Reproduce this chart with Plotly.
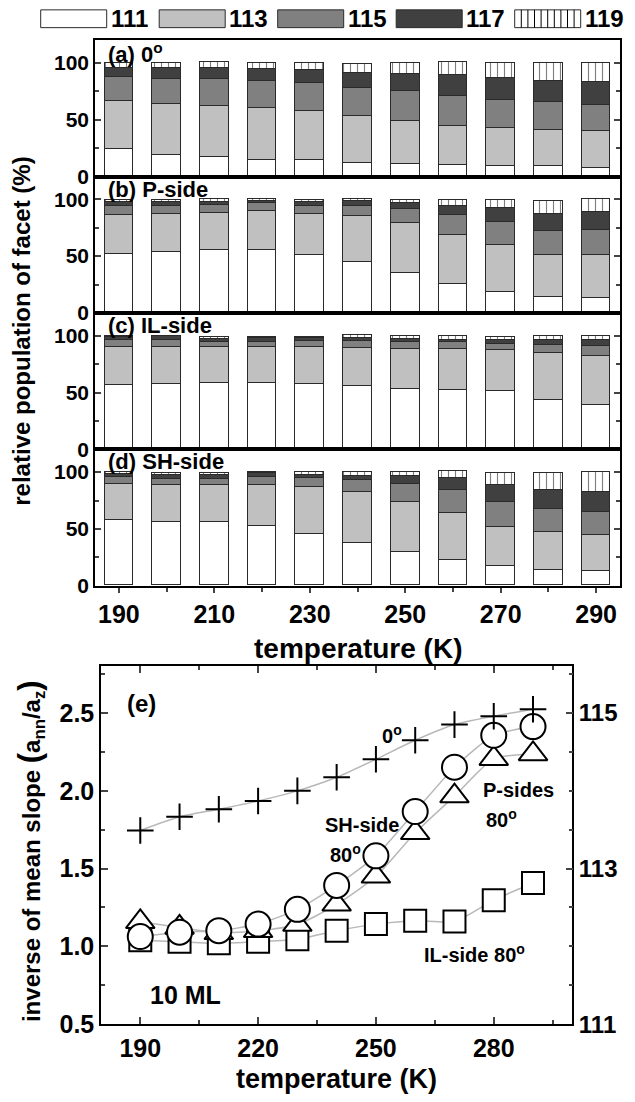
import plotly.graph_objects as go

W, H = 635, 1102

# ---------------- data ----------------
temps = [190, 200, 210, 220, 230, 240, 250, 260, 270, 280, 290]
facets = ["111", "113", "115", "117", "119"]

# (a) 0 deg
a_111 = [24, 19, 17, 14.6, 14, 11.7, 10.8, 9.6, 9, 9, 7.6]
a_113 = [42.5, 44.3, 45.2, 45.2, 43.7, 41.1, 38.2, 35, 33.3, 32.1, 32.1]
a_115 = [20.7, 22.1, 23.3, 24.2, 24.8, 25.3, 26.2, 26.2, 24.7, 24.5, 23.3]
a_117 = [8.4, 9.9, 9.9, 10.2, 10.8, 13.2, 15.2, 18.4, 19.3, 18.4, 20.4]
a_119 = [4.4, 4.7, 5.2, 5.8, 6.7, 7.7, 9.6, 11.7, 13.7, 16, 16.6]
# (b) P-side
b_111 = [52.5, 54.2, 55.4, 55.4, 51.6, 45.2, 35.3, 25.7, 18.4, 14.3, 13.4]
b_113 = [34.1, 33.3, 33.2, 34.4, 35.9, 40.5, 44, 43.7, 41.4, 36.7, 37.6]
b_115 = [8.2, 6.7, 6.7, 7, 7.3, 9.1, 12.2, 17.5, 21, 21.3, 22.8]
b_117 = [2.9, 3.8, 3, 2.3, 3.2, 3.7, 5.9, 7.9, 12.2, 15.2, 15.1]
b_119 = [2.3, 2, 2.3, 1.5, 2, 2.1, 2.6, 5.2, 7, 11.6, 11.7]
# (c) IL-side
c_111 = [56.3, 57.1, 58, 58, 57.4, 55.4, 53.1, 52.2, 51, 43.7, 39.4]
c_113 = [34.1, 33.3, 32.4, 32.4, 33, 33.8, 35.2, 36.1, 36.5, 40.8, 42.8]
c_115 = [5.5, 5.5, 4.4, 4.4, 4.6, 6.1, 5.9, 5.9, 4.9, 7.6, 9.1]
c_117 = [3.2, 3.5, 2.6, 2.9, 2.7, 2.4, 2.7, 2.1, 3.8, 4.1, 4.9]
c_119 = [0.9, 0.6, 1.4, 1.1, 1.1, 2.9, 2.8, 3.4, 2.3, 3.8, 3.8]
# (d) SH-side
d_111 = [57.4, 56.2, 55.4, 52.5, 45.5, 37.7, 29.3, 22.6, 16.8, 13.6, 12.8]
d_113 = [31.9, 32.2, 33, 35.9, 40.9, 44.6, 44.3, 40.9, 34.8, 33.1, 31.5]
d_115 = [6.4, 5.2, 5.2, 7.3, 7.8, 10.5, 15.7, 20, 21.4, 20.3, 20.6]
d_117 = [2.3, 3.5, 3.5, 2.9, 2.9, 3.7, 7.2, 11.3, 15.4, 17.3, 17.1]
d_119 = [1.4, 2, 2, 1.4, 2.9, 3.2, 3.5, 6.1, 10.7, 14.8, 18]

panel_labels = ["(a) 0<sup>o</sup>", "(b) P-side", "(c) IL-side", "(d) SH-side"]

# (e) inverse of mean slope
zero_deg = [1.745, 1.833, 1.882, 1.935, 2.0, 2.087, 2.203, 2.325, 2.426, 2.48, 2.525]
sh_side = [1.063, 1.091, 1.101, 1.143, 1.238, 1.392, 1.582, 1.867, 2.152, 2.357, 2.413]
p_side = [1.158, 1.122, 1.087, 1.10, 1.14, 1.27, 1.45, 1.73, 1.966, 2.207, 2.237]
il_side = [1.04, 1.03, 1.02, 1.03, 1.045, 1.101, 1.143, 1.165, 1.16, 1.297, 1.407]

bar_xticks = [190, 210, 230, 250, 270, 290]
e_xticks = [190, 220, 250, 280]
e_yticks = [0.5, 1.0, 1.5, 2.0, 2.5]
right_ticks = [111, 113, 115]

# ---------------- styles ----------------
FONT = "Liberation Sans, Arial, Helvetica, sans-serif"
fill_colors = ["#ffffff", "#c0c0c0", "#808080", "#404040", "#ffffff"]
panels = [
    [a_111, a_113, a_115, a_117, a_119],
    [b_111, b_113, b_115, b_117, b_119],
    [c_111, c_113, c_115, c_117, c_119],
    [d_111, d_113, d_115, d_117, d_119],
]

fig = go.Figure()

for p, series in enumerate(panels):
    xa = "x" if p == 0 else f"x{p+1}"
    ya = "y" if p == 0 else f"y{p+1}"
    for f, vals in enumerate(series):
        marker = dict(color=fill_colors[f], line=dict(color="#2a2a2a", width=1))
        if f == 4:
            marker["pattern"] = dict(shape="|", fgcolor="#000000", bgcolor="#ffffff",
                                     size=7, solidity=0.16)
        fig.add_trace(go.Bar(x=temps, y=vals, width=6, marker=marker, name=facets[f],
                             xaxis=xa, yaxis=ya, showlegend=False))

# panel (e) lines underneath
line_style = dict(color="#b8b8b8", width=1.5, shape="spline", smoothing=0.6)
for ser in [il_side, p_side, sh_side, zero_deg]:
    fig.add_trace(go.Scatter(x=temps, y=ser, mode="lines", line=line_style,
                             xaxis="x5", yaxis="y5", showlegend=False, hoverinfo="skip"))

mk_line = dict(color="black", width=2)
fig.add_trace(go.Scatter(x=temps, y=il_side, mode="markers", xaxis="x5", yaxis="y5",
                         marker=dict(symbol="square", size=22, color="white", line=mk_line),
                         showlegend=False))
fig.add_trace(go.Scatter(x=temps, y=p_side, mode="markers", xaxis="x5", yaxis="y5",
                         marker=dict(symbol="triangle-up", size=25, color="white", line=mk_line),
                         showlegend=False))
fig.add_trace(go.Scatter(x=temps, y=sh_side, mode="markers", xaxis="x5", yaxis="y5",
                         marker=dict(symbol="circle", size=25, color="white", line=mk_line),
                         showlegend=False))
fig.add_trace(go.Scatter(x=temps, y=zero_deg, mode="markers", xaxis="x5", yaxis="y5",
                         marker=dict(symbol="cross-thin", size=19, color="black", line=mk_line),
                         showlegend=False))
# right axis carrier
fig.add_trace(go.Scatter(x=[None], y=[None], xaxis="x5", yaxis="y6", showlegend=False,
                         hoverinfo="skip"))

# ---------------- layout ----------------
bar_left, bar_right = 95, 620
top0, ph = 40.7, 138.15
layout = dict(width=W, height=H, autosize=False, margin=dict(l=0, r=0, t=0, b=0),
              paper_bgcolor="white", plot_bgcolor="white", barmode="stack", bargap=0,
              font=dict(family=FONT, color="black"))

for p in range(4):
    top = top0 + p * ph
    bot = top + ph
    xk = "xaxis" if p == 0 else f"xaxis{p+1}"
    yk = "yaxis" if p == 0 else f"yaxis{p+1}"
    yname = "y" if p == 0 else f"y{p+1}"
    xname = "x" if p == 0 else f"x{p+1}"
    last = p == 3
    layout[xk] = dict(domain=[bar_left / W, bar_right / W], anchor=yname, range=[185, 295],
                      tickvals=bar_xticks, showticklabels=last,
                      ticks="outside" if last else "", ticklen=5, tickwidth=1.5,
                      minor=dict(tickvals=[200, 220, 240, 260, 280],
                                 ticks="outside" if last else "", ticklen=4, tickwidth=1.5),
                      showline=True, linecolor="black", linewidth=1.5, mirror=True,
                      showgrid=False, zeroline=False,
                      tickfont=dict(size=25, family=FONT, weight="bold"))
    layout[yk] = dict(domain=[1 - bot / H, 1 - top / H], anchor=xname, range=[0, 120],
                      tickvals=[0, 50, 100], ticks="inside", ticklen=6, tickwidth=1.5,
                      minor=dict(tickvals=[25, 75], ticks="inside", ticklen=4, tickwidth=1.5),
                      showline=True, linecolor="black", linewidth=1.5, mirror="ticks",
                      showgrid=False, zeroline=False,
                      tickfont=dict(size=21, family=FONT, weight="bold"))

e_left, e_right, e_top, e_bot = 101, 572.3, 675, 1037.3
layout["xaxis5"] = dict(domain=[e_left / W, e_right / W], anchor="y5", range=[180, 300],
                        tickvals=e_xticks, ticks="inside", ticklen=7, tickwidth=1.5,
                        minor=dict(tickvals=[205, 235, 265, 295], ticks="inside",
                                   ticklen=4, tickwidth=1.5),
                        showline=True, linecolor="black", linewidth=1.5, mirror="ticks",
                        showgrid=False, zeroline=False, ticklabelstandoff=1,
                        tickfont=dict(size=25, family=FONT, weight="bold"))
layout["yaxis5"] = dict(domain=[1 - e_bot / H, 1 - e_top / H], anchor="x5", range=[0.5, 2.8],
                        tickvals=e_yticks, ticktext=["0.5", "1.0", "1.5", "2.0", "2.5"],
                        ticks="inside", ticklen=7, tickwidth=1.5,
                        minor=dict(tickvals=[0.75, 1.25, 1.75, 2.25, 2.75], ticks="inside",
                                   ticklen=4, tickwidth=1.5),
                        showline=True, linecolor="black", linewidth=1.5, mirror=True,
                        showgrid=False, zeroline=False,
                        tickfont=dict(size=25, family=FONT, weight="bold"))
layout["yaxis6"] = dict(overlaying="y5", side="right", anchor="x5", range=[111, 115.6],
                        tickvals=right_ticks, ticks="inside", ticklen=7, tickwidth=1.5,
                        minor=dict(tickvals=[111.5, 112, 112.5, 113.5, 114, 114.5, 115.5],
                                   ticks="inside", ticklen=4, tickwidth=1.5),
                        showline=True, linecolor="black", linewidth=1.5,
                        showgrid=False, zeroline=False,
                        tickfont=dict(size=24, family=FONT, weight="bold"))

fig.update_layout(**layout)

bold = dict(family=FONT, weight="bold", color="black")
ann = []
# panel labels
for p, lab in enumerate(panel_labels):
    ann.append(dict(text=lab, x=187.3, y=109, xref="x" if p == 0 else f"x{p+1}",
                    yref="y" if p == 0 else f"y{p+1}", xanchor="left", yanchor="middle",
                    showarrow=False, font=dict(size=22, **bold)))
# axis titles
ann.append(dict(text="relative population of facet (%)", x=22 / W, y=1 - 336 / H,
                xref="paper", yref="paper", textangle=-90, showarrow=False,
                xanchor="center", yanchor="middle", font=dict(size=24, **bold)))
ann.append(dict(text="temperature (K)", x=(bar_left + bar_right) / 2 / W, y=1 - 657 / H,
                xref="paper", yref="paper", showarrow=False, xanchor="center",
                yanchor="middle", font=dict(size=28, **bold)))
ann.append(dict(text="inverse of mean slope <span style='font-size:31px'>(</span>a"
                     "<sub>nn</sub>/a<sub>z</sub><span style='font-size:31px'>)</span>",
                x=30 / W, y=1 - 862 / H, xref="paper", yref="paper", textangle=-90,
                showarrow=False, xanchor="center", yanchor="middle",
                font=dict(size=24, **bold)))
ann.append(dict(text="temperature (K)", x=(e_left + e_right) / 2 / W, y=1 - 1093 / H,
                xref="paper", yref="paper", showarrow=False, xanchor="center",
                yanchor="middle", font=dict(size=27, **bold)))
# panel (e) labels
e_texts = [("(e)", 190.4, 2.56, 24), ("10 ML", 201.6, 0.69, 25),
           ("0<sup>o</sup>", 254, 2.36, 20), ("SH-side", 246.5, 1.78, 20),
           ("80<sup>o</sup>", 242.3, 1.60, 20), ("P-sides", 286.3, 2.005, 20),
           ("80<sup>o</sup>", 282, 1.825, 20), ("IL-side 80<sup>o</sup>", 275, 0.955, 20)]
for t, x, y, s in e_texts:
    ann.append(dict(text=t, x=x, y=y, xref="x5", yref="y5", showarrow=False,
                    xanchor="center", yanchor="middle", font=dict(size=s, **bold)))

# legend (drawn in paper pixels)
shapes = []
leg_x0, leg_step, box_w, box_y0, box_y1 = 40.7, 118.5, 66, 10, 28
for i, name in enumerate(facets):
    x0 = leg_x0 + i * leg_step
    shapes.append(dict(type="rect", xref="paper", yref="paper", x0=x0 / W, x1=(x0 + box_w) / W,
                       y0=1 - box_y1 / H, y1=1 - box_y0 / H,
                       fillcolor=fill_colors[i], line=dict(color="#2a2a2a", width=1)))
    if i == 4:
        k = 1
        while k * 6.6 < box_w - 2:
            xx = x0 + k * 6.6
            shapes.append(dict(type="line", xref="paper", yref="paper", x0=xx / W, x1=xx / W,
                               y0=1 - box_y1 / H, y1=1 - box_y0 / H,
                               line=dict(color="black", width=1)))
            k += 1
    ann.append(dict(text=name, x=(x0 + box_w + 2) / W, y=1 - (box_y0 + box_y1) / 2 / H,
                    xref="paper", yref="paper", xanchor="left", yanchor="middle",
                    showarrow=False, font=dict(size=24, **bold)))

fig.update_layout(annotations=ann, shapes=shapes)
fig.write_html("out.html")
